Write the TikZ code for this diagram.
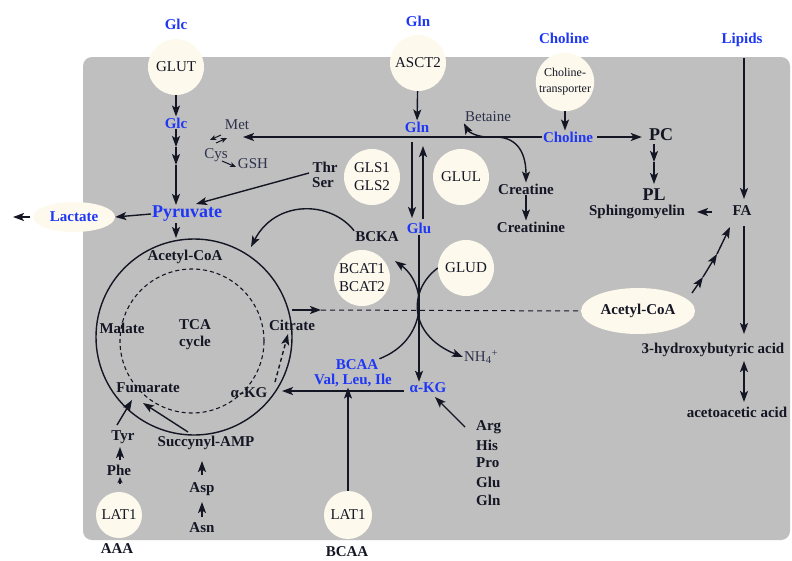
\documentclass[tikz,border=0pt]{standalone}
\usepackage{fontspec}
\setmainfont{Liberation Serif}
\usetikzlibrary{arrows.meta,shapes.geometric,calc}
\definecolor{cellgray}{RGB}{191,191,191}
\definecolor{cream}{RGB}{253,249,237}
\definecolor{metblue}{RGB}{30,55,245}
\definecolor{ink}{RGB}{20,22,36}
\definecolor{slate}{RGB}{45,50,75}
\tikzset{
  pointed/.tip={Stealth[length=11pt,width=8pt,inset=2.5pt]},
  dart/.tip={Stealth[length=6pt,width=5pt,inset=1.5pt]},
  arr/.style={line width=1.4pt,draw=ink,-pointed},
  porter/.style={circle,fill=cream,minimum size=56pt,inner sep=0pt,align=center,text=ink,font=\fontsize{15}{18}\selectfont},
  blob/.style={ellipse,fill=cream,inner sep=0pt},
  lbl/.style={inner sep=1pt,text=ink,font=\fontsize{15}{18}\selectfont\bfseries},
  blbl/.style={lbl,text=metblue},
  thinlbl/.style={inner sep=1pt,text=slate,font=\fontsize{15}{18}\selectfont}
}
\begin{document}
\begin{tikzpicture}[x=1pt,y=-1pt]
\useasboundingbox (0,0) rectangle (792,560);
\fill[cellgray,rounded corners=9pt] (83,57) rectangle (790,540);

% transporters and enzymes
\node[porter] (glut) at (176,67) {GLUT};
\node[porter] (asct) at (418,63) {ASCT2};
\node[porter,font=\fontsize{12}{16}\selectfont] (chot) at (565,82) {Choline-\\transporter};
\node[porter] (gls) at (372,177) {GLS1\\GLS2};
\node[porter] (glul) at (461,177) {GLUL};
\node[porter] (glud) at (466,268) {GLUD};
\node[porter] (bcat) at (362,278) {BCAT1\\BCAT2};
\node[porter,minimum size=46pt] (lat1a) at (119,515) {LAT1};
\node[porter,minimum size=48pt] (lat1b) at (348,515) {LAT1};
\node[blob,minimum width=82pt,minimum height=30pt,blbl] (lac) at (74,217) {Lactate};
\node[blob,minimum width=114pt,minimum height=46pt,lbl] (acoa2) at (638,311) {Acetyl-CoA};

% blue metabolites
\node[blbl] (glcout) at (176,24) {Glc};
\node[blbl] (glnout) at (418,21) {Gln};
\node[blbl] (chout) at (564,38) {Choline};
\node[blbl] (lipids) at (742,40) {Lipids};
\node[blbl] (glc) at (176,123) {Glc};
\node[blbl] (gln) at (417,127) {Gln};
\node[blbl] (cho) at (568,137) {Choline};
\node[blbl,font=\fontsize{18}{20}\selectfont\bfseries] (pyr) at (187,214) {Pyruvate};
\node[blbl] (glu) at (419,228) {Glu};
\node[blbl] (bcaa) at (357,365) {BCAA};
\node[blbl] (bcaas) at (353,380) {Val, Leu, Ile};
\node[blbl] (akg) at (428,388) {α-KG};

% black metabolites
\node[lbl,font=\fontsize{18}{20}\selectfont\bfseries] (pc) at (661,135) {PC};
\node[lbl,font=\fontsize{18}{20}\selectfont\bfseries] (pl) at (654,195) {PL};
\node[lbl] (sph) at (637,212) {Sphingomyelin};
\node[lbl] (fa) at (742,211) {FA};
\node[lbl] (hba) at (713,350) {3-hydroxybutyric acid};
\node[lbl] (aca) at (737,412) {acetoacetic acid};
\node[lbl] (crea) at (526,189) {Creatine};
\node[lbl] (crnn) at (531,227) {Creatinine};
\node[lbl] (thr) at (325,167) {Thr};
\node[lbl] (ser) at (323,183) {Ser};
\node[lbl] (bcka) at (377,237) {BCKA};
\node[lbl] (acoa) at (185,257) {Acetyl-CoA};
\node[lbl] (malate) at (122,328) {Malate};
\node[lbl] (tca) at (195,325) {TCA};
\node[lbl] (cyc) at (195,343) {cycle};
\node[lbl] (cit) at (292,325) {Citrate};
\node[lbl] (fum) at (148,388) {Fumarate};
\node[lbl] (akg2) at (249,393) {α-KG};
\node[lbl] (tyr) at (123,437) {Tyr};
\node[lbl] (samp) at (206,443) {Succynyl-AMP};
\node[lbl] (phe) at (119,470) {Phe};
\node[lbl] (asp) at (202,489) {Asp};
\node[lbl] (asn) at (202,528) {Asn};
\node[lbl,anchor=west] (arg) at (475,427) {Arg};
\node[lbl,anchor=west] (his) at (475,445) {His};
\node[lbl,anchor=west] (pro) at (475,463) {Pro};
\node[lbl,anchor=west] (glu2) at (475,482) {Glu};
\node[lbl,anchor=west] (gln2) at (475,500) {Gln};
\node[lbl] (aaa) at (117,549) {AAA};
\node[lbl] (bcaab) at (347,552) {BCAA};
\node[thinlbl] (betaine) at (488,117) {Betaine};
\node[thinlbl] (met) at (237,125) {Met};
\node[thinlbl] (cys) at (216,155) {Cys};
\node[thinlbl] (gsh) at (253,164) {GSH};
\node[thinlbl] (nh4) at (481,357) {NH\textsubscript{4}\textsuperscript{+}};

% TCA cycle
\draw[line width=1.4pt,ink] (194,337) circle[radius=98pt];
\draw[line width=1.1pt,ink,dash pattern=on 4pt off 3pt] (192,341) circle[radius=72pt];

\coordinate (g1) at (176,147);
\coordinate (g2) at (176,165);
\coordinate (ctop) at (176,238);
\coordinate (ck) at (251,247);
\coordinate (lacout) at (13,217);
\coordinate (thrs) at (309,173);
\coordinate (pyrn) at (196,204);
\coordinate (metin) at (243,137);
\coordinate (q1) at (412,142);
\coordinate (q2) at (412,218);
\coordinate (q3) at (423,219);
\coordinate (q4) at (423,146);
\coordinate (bk) at (395,261);
\coordinate (c1) at (292,310);
\coordinate (c2) at (321,310);
\coordinate (a0) at (692,293);
\coordinate (a1) at (703,277);
\coordinate (a2) at (717,254);
\coordinate (a3) at (730,227);
\coordinate (l0) at (744,58);
\coordinate (l1) at (744,199);
\coordinate (f0) at (744,226);
\coordinate (f1) at (744,334);
\coordinate (f2) at (712,212);
\coordinate (f3) at (697,212);
\coordinate (h0) at (744,361);
\coordinate (h1) at (744,402);
\coordinate (p0) at (654,144);
\coordinate (p1) at (654,162);
\coordinate (p2) at (654,184);
\coordinate (b0) at (486,137);
\coordinate (b1) at (497,137);
\coordinate (k0) at (404,391);
\coordinate (k1) at (282,391);
\coordinate (r0) at (465,427);
\coordinate (r1) at (435,397);

% glucose
\draw[arr] (glut) -- (glc);
\draw[arr] (glc) -- (g1);
\draw[arr] (g1) -- (g2);
\draw[arr] (g2) -- (g2 |- pyr.north);
\draw[arr] (pyr.south -| g1) -- (ctop);
\draw[arr] (pyr.west) -- (lac.east);
\draw[arr] ([xshift=-3pt]lac.west) -- (lacout);
\draw[arr] (thrs) -- (pyrn);

% choline, Met, Cys
\draw[arr] (chot.south) -- (chot.south |- cho.north);
\draw[arr] (cho.west) -- (metin);
\draw[line width=1pt,ink,-dart] (221,135) -- (210,140);
\draw[line width=1pt,ink,-dart] (216,143) -- (227,138);
\draw[line width=1pt,ink,-dart] (222,161) -- (236,167);
\draw[arr] (b0) .. controls (474,136) and (468,131) .. (betaine.south west);
\draw[arr] (b1) .. controls (519,138) and (526,155) .. (crea.north);
\draw[arr] (crea.south) -- (crea.south |- crnn.north);
\draw[arr] ([xshift=3pt]cho.east) -- ([xshift=-6pt]cho.east -| pc.west);
\draw[arr] (p0) -- (p1);
\draw[arr] (p1) -- (p2);

% glutamine, glutamate
\draw[arr] (asct) -- (gln);
\draw[arr] (q1) -- (q2);
\draw[arr] (q3) -- (q4);
\draw[arr] (glu.south) -- (glu.south |- akg.north);
\draw[arr] (bcaa.north east) .. controls (428,340) and (428,285) .. (bk);
\draw[arr] (glud.west) .. controls (408,290) and (408,335) .. (nh4.west);
\draw[arr] (bcka.north west) .. controls (330,200) and (275,200) .. (ck);
\draw[arr] (k0) -- (k1);
\draw[arr] (r0) -- (r1);
\draw[arr] (lat1b.north) -- (lat1b.north |- bcaas.south);

% citrate, lipids
\draw[arr] (c1) -- (c2);
\draw[line width=1pt,ink,dash pattern=on 5pt off 4pt] (c2) -- (acoa2.west);
\draw[arr] (a0) -- (a1);
\draw[arr] (a1) -- (a2);
\draw[arr] (a2) -- (a3);
\draw[arr] (l0) -- (l1);
\draw[arr] (f0) -- (f1);
\draw[arr] (f2) -- (f3);
\draw[arr,pointed-pointed] (h0) -- (h1);

% TCA inputs
\draw[arr,dash pattern=on 4pt off 3pt] (275,382) -- (288,334);
\draw[arr,-dart] (120,484) -- (120,477);
\draw[arr] (120,460) -- (120,447);
\draw[arr] (117,425) -- (132,400);
\draw[arr] (188,432) -- (143,403);
\draw[arr] (202,517) -- (202,502);
\draw[arr] (202,475) -- (202,461);
\end{tikzpicture}
\end{document}
